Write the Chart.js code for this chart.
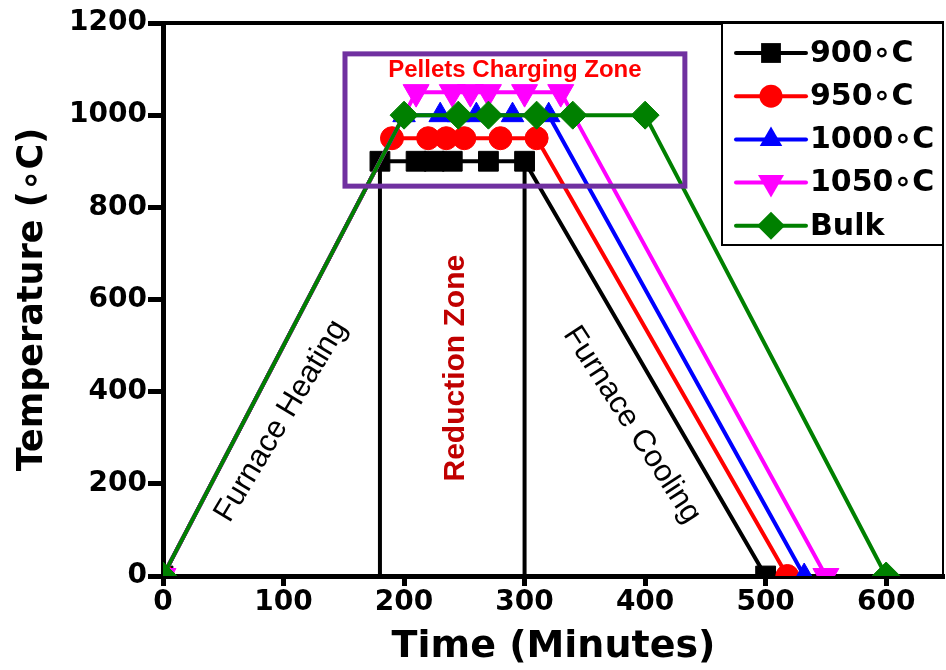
<!DOCTYPE html>
<html>
<head>
<meta charset="utf-8">
<title>Furnace temperature profile</title>
<script src="https://cdn.jsdelivr.net/npm/chart.js@4/dist/chart.umd.min.js"></script>
<style>
  html, body { margin: 0; padding: 0; background: #fff; overflow: hidden; }
  #wrap { width: 946px; height: 670px; position: relative; }
  canvas { display: block; }
</style>
</head>
<body>
<div id="wrap"><canvas id="line-chart"></canvas></div>
<script>
// time (minutes) / temperature (°C) for each run
const time900 = [0, 180, 210, 225, 240, 270, 300, 500];
const temp900 = [0, 900, 900, 900, 900, 900, 900, 0];
const time950 = [0, 190, 220, 235, 250, 280, 310, 518];
const temp950 = [0, 950, 950, 950, 950, 950, 950, 0];
const time1000 = [0, 200, 230, 245, 260, 290, 320, 532];
const temp1000 = [0, 1000, 1000, 1000, 1000, 1000, 1000, 0];
const time1050 = [0, 210, 240, 255, 270, 300, 330, 550];
const temp1050 = [0, 1050, 1050, 1050, 1050, 1050, 1050, 0];
const timeBulk = [0, 200, 245, 270, 310, 340, 400, 600];
const tempBulk = [0, 1000, 1000, 1000, 1000, 1000, 1000, 0];

const seriesLabels = ["900∘C", "950∘C", "1000∘C", "1050∘C", "Bulk"];
const xTicks = [0, 100, 200, 300, 400, 500, 600];
const yTicks = [0, 200, 400, 600, 800, 1000, 1200];

// start / end of the reduction zone (vertical black lines)
const zoneTimes = [180, 300];
const zoneTemps = [0, 900];

const pts = (xs, ys) => xs.map((x, i) => ({ x: x, y: ys[i] }));

const styles = [
  { color: "#000000", shape: "rect", r: 14, rot: 0 },
  { color: "#ff0000", shape: "circle", r: 11.5, rot: 0 },
  { color: "#0000ff", shape: "triangle", r: 13, rot: 0 },
  { color: "#ff00ff", shape: "triangle", r: 15, rot: 180 },
  { color: "#008000", shape: "rectRot", r: 14, rot: 0 },
];

const seriesData = [
  pts(time900, temp900),
  pts(time950, temp950),
  pts(time1000, temp1000),
  pts(time1050, temp1050),
  pts(timeBulk, tempBulk),
];

const datasets = seriesData.map((d, i) => ({
  label: seriesLabels[i],
  data: d,
  borderColor: styles[i].color,
  backgroundColor: styles[i].color,
  borderWidth: 4,
  pointStyle: styles[i].shape,
  pointRadius: styles[i].r,
  pointRotation: styles[i].rot,
  pointBorderWidth: 1,
  pointBorderColor: styles[i].color,
  pointBackgroundColor: styles[i].color,
  tension: 0,
  clip: 0,
  order: 5 - i,
}));

zoneTimes.forEach((t) => {
  datasets.push({
    label: "zone",
    data: pts([t, t], zoneTemps),
    borderColor: "#000",
    borderWidth: 4,
    pointRadius: 0,
    clip: 0,
    order: 10,
  });
});

// draws a marker the same way as Chart.js does
function drawMarker(ctx, st, x, y) {
  const r = st.r;
  ctx.beginPath();
  if (st.shape === "circle") {
    ctx.arc(x, y, r, 0, Math.PI * 2);
  } else if (st.shape === "rect") {
    const s = r * Math.SQRT1_2;
    ctx.rect(x - s, y - s, 2 * s, 2 * s);
  } else if (st.shape === "rectRot") {
    ctx.moveTo(x, y - r);
    ctx.lineTo(x + r, y);
    ctx.lineTo(x, y + r);
    ctx.lineTo(x - r, y);
  } else {
    let a = (st.rot * Math.PI) / 180;
    for (let k = 0; k < 3; k++) {
      const px = x + Math.sin(a) * r;
      const py = y - Math.cos(a) * r;
      if (k === 0) ctx.moveTo(px, py);
      else ctx.lineTo(px, py);
      a += (2 * Math.PI) / 3;
    }
  }
  ctx.closePath();
  ctx.fillStyle = st.color;
  ctx.fill();
}

// zone box + labels, in data coordinates
const chargeBox = { x1: 151, x2: 433, y1: 846, y2: 1133 };
const notes = [
  { text: "Pellets Charging Zone", x: 292, y: 1098, rot: 0, color: "#ff0000", font: "bold 24px 'Liberation Sans', Arial, sans-serif" },
  { text: "Furnace Heating", x: 98, y: 336, rot: -59, color: "#000", font: "31px 'Liberation Sans', Arial, sans-serif" },
  { text: "Reduction Zone", x: 243, y: 451, rot: -90, color: "#c00000", font: "bold 30px 'Liberation Sans', Arial, sans-serif" },
  { text: "Furnace Cooling", x: 389, y: 328, rot: 57, color: "#000", font: "31px 'Liberation Sans', Arial, sans-serif" },
];

const annotations = {
  id: "annotations",
  afterDatasetsDraw(chart) {
    const { ctx, scales } = chart;
    const xs = scales.x, ys = scales.y;
    ctx.save();
    ctx.strokeStyle = "#7030a0";
    ctx.lineWidth = 5;
    const bx = xs.getPixelForValue(chargeBox.x1);
    const by = ys.getPixelForValue(chargeBox.y2);
    ctx.strokeRect(bx, by, xs.getPixelForValue(chargeBox.x2) - bx, ys.getPixelForValue(chargeBox.y1) - by);
    notes.forEach((n) => {
      ctx.save();
      ctx.translate(xs.getPixelForValue(n.x), ys.getPixelForValue(n.y));
      ctx.rotate((n.rot * Math.PI) / 180);
      ctx.font = n.font;
      ctx.fillStyle = n.color;
      ctx.textAlign = "center";
      ctx.textBaseline = "middle";
      ctx.fillText(n.text, 0, 0);
      ctx.restore();
    });
    ctx.restore();
  },
  afterDraw(chart) {
    const { ctx, chartArea } = chart;
    ctx.save();
    // frame top / right
    ctx.strokeStyle = "#000";
    ctx.lineWidth = 4;
    ctx.beginPath();
    ctx.moveTo(chartArea.left - 2, chartArea.top);
    ctx.lineTo(chartArea.right, chartArea.top);
    ctx.stroke();
    ctx.lineWidth = 2;
    ctx.beginPath();
    ctx.moveTo(chartArea.right - 1, chartArea.top);
    ctx.lineTo(chartArea.right - 1, chartArea.bottom);
    ctx.stroke();
    // legend inside the plot
    const lx = 722, ly = chartArea.top, lw = chartArea.right - 1 - 722, lh = 222;
    ctx.fillStyle = "#fff";
    ctx.fillRect(lx, ly, lw, lh);
    ctx.strokeRect(lx, ly, lw, lh);
    ctx.font = "bold 30px 'DejaVu Sans', sans-serif";
    ctx.textBaseline = "middle";
    ctx.textAlign = "left";
    seriesLabels.forEach((lab, i) => {
      const y = ly + 30 + i * 43.2;
      ctx.strokeStyle = styles[i].color;
      ctx.lineWidth = 4;
      ctx.lineCap = "round";
      ctx.beginPath();
      ctx.moveTo(736, y);
      ctx.lineTo(806, y);
      ctx.stroke();
      drawMarker(ctx, styles[i], 771, y);
      ctx.fillStyle = "#000";
      ctx.fillText(lab, 810, y + 1);
    });
    ctx.restore();
  },
};

Chart.defaults.font.family = "'DejaVu Sans', sans-serif";
Chart.defaults.color = "#000";

new Chart(document.getElementById("line-chart"), {
  type: "line",
  data: { datasets: datasets },
  options: {
    responsive: true,
    maintainAspectRatio: false,
    animation: false,
    layout: { autoPadding: false, padding: { top: 23, right: 2, left: 0, bottom: 0 } },
    plugins: { legend: { display: false }, tooltip: { enabled: false } },
    scales: {
      x: {
        type: "linear",
        min: 0,
        max: 648,
        afterBuildTicks: (s) => { s.ticks = xTicks.map((v) => ({ value: v })); },
        afterFit: (s) => { s.height = 94; s.paddingLeft = 0; s.paddingRight = 0; },
        grid: { drawOnChartArea: false, drawTicks: true, tickLength: 10, tickWidth: 5, tickColor: "#000" },
        border: { display: true, width: 5, color: "#000" },
        ticks: { color: "#000", font: { size: 28, weight: "bold" }, padding: 0, maxRotation: 0, callback: (v) => String(v) },
        title: { display: true, text: "Time (Minutes)", color: "#000", font: { size: 38, weight: "bold" }, padding: { top: 0, bottom: 0 } },
      },
      y: {
        type: "linear",
        min: 0,
        max: 1200,
        afterBuildTicks: (s) => { s.ticks = yTicks.map((v) => ({ value: v })); },
        afterFit: (s) => { s.width = 163; s.paddingTop = 0; s.paddingBottom = 0; },
        grid: { drawOnChartArea: false, drawTicks: true, tickLength: 15, tickWidth: 5, tickColor: "#000" },
        border: { display: true, width: 5, color: "#000" },
        ticks: { color: "#000", font: { size: 28, weight: "bold" }, padding: 1, callback: (v) => String(v) },
        title: { display: true, text: "Temperature (∘C)", color: "#000", font: { size: 35, weight: "bold" }, padding: { top: 12, bottom: 0 } },
      },
    },
  },
  plugins: [annotations],
});
</script>
</body>
</html>
